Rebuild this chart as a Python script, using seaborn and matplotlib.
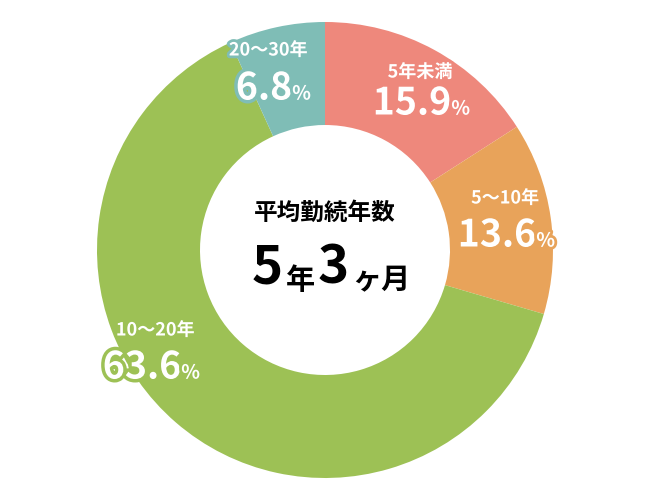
import matplotlib
matplotlib.use("Agg")
import matplotlib.pyplot as plt
import matplotlib.patheffects as pe
import seaborn as sns

sns.set_theme(style="white")
plt.rcParams['font.family'] = ['Noto Sans CJK JP', 'DejaVu Sans']

categories = ["5年未満", "5～10年", "10～20年", "20～30年"]
values = [15.9, 13.6, 63.6, 6.8]
colors = ["#EE887C", "#E8A35A", "#9DC155", "#7FBDB6"]
title_line = "平均勤続年数"

fig = plt.figure(figsize=(6.5, 5), dpi=100)
ax = fig.add_axes([0, 0, 1, 1])
R = 228.0
ax.pie(values, colors=colors, startangle=90, counterclock=False, radius=1,
       wedgeprops=dict(width=1 - 125 / R, linewidth=0))
ax.set_xlim(-325 / R, 325 / R)
ax.set_ylim(-250 / R, 250 / R)
ax.set_aspect('equal')
ax.axis('off')

def P(px, py):
    return ((px - 325) / R, (250 - py) / R)

label_pos = [((420, 72), (420, 103)), ((505, 198), (505, 235)),
             ((155, 330), (150, 367)), ((268, 50), (272, 88))]
for cat, v, c, (lp, vp) in zip(categories, values, colors, label_pos):
    st = [pe.withStroke(linewidth=4, foreground=c)]
    ax.text(*P(*lp), cat, ha='center', va='center', fontsize=13, fontweight='bold',
            color='white', path_effects=st)
    t = ax.text(*P(vp[0] - 8, vp[1]), f"{v:.1f}", ha='center', va='center', fontsize=27,
                fontweight='bold', color='white', path_effects=[pe.withStroke(linewidth=5, foreground=c)])
    ax.annotate("%", xy=(1, 0.1), xycoords=t, ha='left', va='bottom', fontsize=14,
                fontweight='bold', color='white', path_effects=st)

ax.text(*P(325, 213), title_line, ha='center', va='center', fontsize=17,
        fontweight='bold', color='black')
parts = [("5", 38), ("年", 21), ("3", 38), ("ヶ月", 21)]
prev = ax.text(*P(252, 295), parts[0][0], ha='left', va='bottom',
               fontsize=parts[0][1], fontweight='bold', color='black')
for s, fs in parts[1:]:
    prev = ax.annotate(s, xy=(1, 0), xycoords=prev, xytext=(2, 0), textcoords='offset points',
                       ha='left', va='bottom', fontsize=fs, fontweight='bold', color='black')

fig.savefig("out.png", dpi=100)
